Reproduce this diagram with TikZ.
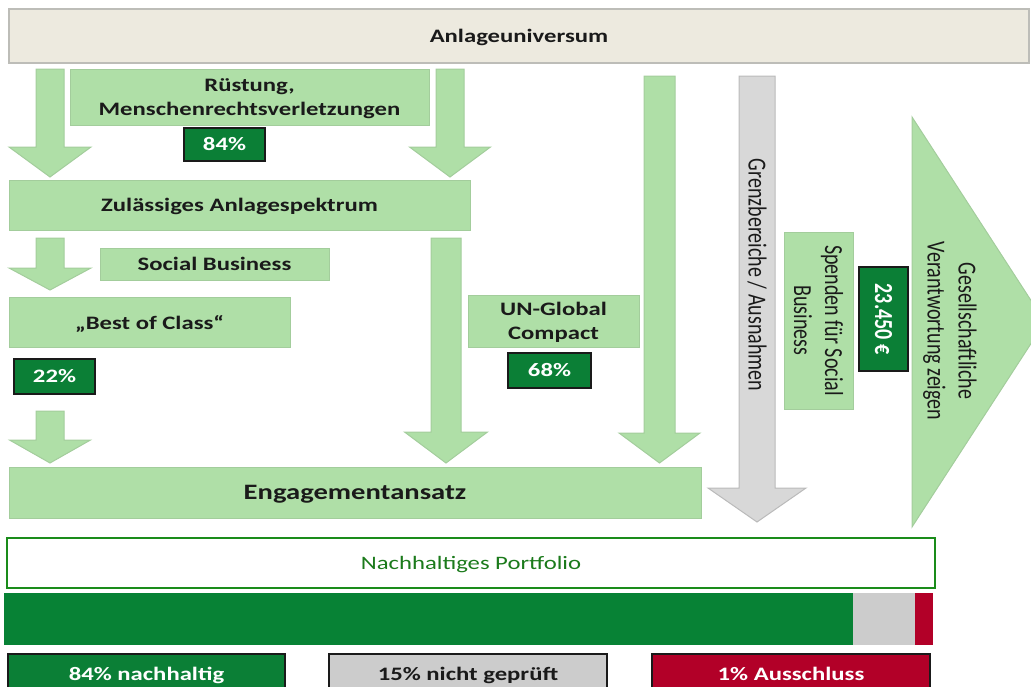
\documentclass[tikz,border=0pt]{standalone}
\usepackage{fontspec}
\setmainfont{Carlito}[FakeStretch=1.3]
\newfontfamily\rotfont{Carlito}[FakeStretch=0.77]
\definecolor{lgreen}{HTML}{AFDFA7}
\definecolor{lgreenline}{HTML}{A3CD9C}
\definecolor{beige}{HTML}{EDEADF}
\definecolor{beigeline}{HTML}{BDBDB8}
\definecolor{lgray}{HTML}{D8D8D8}
\definecolor{lgrayline}{HTML}{BABABA}
\definecolor{dgreen}{HTML}{0B7F36}
\definecolor{bargreen}{HTML}{078235}
\definecolor{bargray}{HTML}{CCCCCC}
\definecolor{barred}{HTML}{B20028}
\definecolor{portline}{HTML}{1A8C1A}
\definecolor{porttext}{HTML}{1B7A1B}
\definecolor{textdark}{HTML}{1A1A1A}
\tikzset{greenbox/.style = {draw=lgreenline, fill=lgreen, line width=1pt, inner sep=0,
                            text=textdark, align=center, text depth=0pt,
                            font=\fontsize{19}{24}\selectfont\bfseries}}
\tikzset{badge/.style = {draw=textdark, fill=dgreen, line width=1.5pt, inner sep=0,
                         text=white, font=\fontsize{19}{23}\selectfont\bfseries}}
\tikzset{blockarrow/.style = {draw=lgreenline, fill=lgreen, line width=1pt}}
\tikzset{grayarrow/.style = {draw=lgrayline, fill=lgray, line width=1pt}}
\tikzset{vtext/.style = {rotate=-90, align=center, text=textdark,
                         font=\rotfont\fontsize{26}{31}\selectfont}}
\tikzset{legend/.style = {draw=textdark, line width=1.5pt, inner sep=0, text depth=0pt,
                          minimum width=277pt, minimum height=40pt,
                          font=\fontsize{19}{23}\selectfont\bfseries}}

\begin{document}
\begin{tikzpicture}[x=1pt, y=-1pt]
  \useasboundingbox (0,0) rectangle (1031,686);
  \node [draw=beigeline, fill=beige, line width=1.5pt, minimum width=1020pt, minimum height=54pt,
         text depth=0pt, text=textdark, font=\fontsize{19}{23}\selectfont\bfseries] (univ) at (519,36)
        {Anlageuniversum};
  \foreach \cx/\sw/\ya/\yb/\hw/\yc in {50/14/69/147/41/177, 450/14/69/147/40.5/177,
                                       50/14/238/268/41/290, 50/14/411/440/40.5/463,
                                       446/15/238/432/41.5/463, 659.5/15.5/76/433/40.5/463}
    \draw [blockarrow] (\cx-\sw,\ya) -- (\cx+\sw,\ya) -- (\cx+\sw,\yb) -- (\cx+\hw,\yb)
                       -- (\cx,\yc) -- (\cx-\hw,\yb) -- (\cx-\sw,\yb) -- cycle;
  \draw [grayarrow] (739,76) -- (775,76) -- (775,488) -- (806,488) -- (757,522)
                    -- (708,488) -- (739,488) -- cycle;
  \draw [blockarrow] (912,117) -- (1045,322) -- (912,527) -- cycle;

  \node [greenbox, minimum width=359pt, minimum height=56pt] (ruest) at (249.5,97)
        {R\"ustung,\\Menschenrechtsverletzungen};
  \node [badge, minimum width=81pt, minimum height=33pt] (pruest) at (224.5,144.5) {84\%};
  \node [greenbox, minimum width=461pt, minimum height=50pt] (zul) at (239.5,205)
        {Zul\"assiges Anlagespektrum};
  \node [greenbox, minimum width=229pt, minimum height=32pt] (social) at (214.5,264) {Social Business};
  \node [greenbox, minimum width=281pt, minimum height=50pt] (best) at (149.5,322)
        {\char"201E Best of Class\char"201C};
  \node [badge, minimum width=81pt, minimum height=35pt] (pbest) at (54.5,376.5) {22\%};
  \node [greenbox, minimum width=171pt, minimum height=52pt] (ungc) at (553.5,321)
        {UN-Global\\Compact};
  \node [badge, minimum width=83pt, minimum height=35pt] (pungc) at (549.5,370.5) {68\%};
  \node [greenbox, minimum width=692pt, minimum height=51pt,
         font=\fontsize{22}{26}\selectfont\bfseries] (engage) at (355,492.5) {Engagementansatz};

  \node [vtext] (grenz) at (757,275) {Grenzbereiche / Ausnahmen};
  \node [greenbox, vtext, text depth=, minimum width=177pt, minimum height=69pt] (spenden) at (818.5,320.5)
        {Spenden f\"ur Social\\Business};
  \node [badge, rotate=-90, minimum width=104pt, minimum height=49pt,
         font=\rotfont\fontsize{26}{31}\selectfont\bfseries] (betrag) at (883.5,319) {23.450\,\char"20AC};
  \node [vtext] (gesell) at (950,331) {Gesellschaftliche\\Verantwortung zeigen};

  \node [draw=portline, fill=white, line width=2pt, minimum width=928pt, minimum height=50pt,
         text depth=0pt, text=porttext, font=\fontsize{19}{23}\selectfont] (portf) at (471,563)
        {Nachhaltiges Portfolio};
  \fill [bargreen] (4,593) rectangle (853,645);
  \fill [bargray] (853,593) rectangle (915,645);
  \fill [barred] (915,593) rectangle (933,645);

  \node [legend, fill=dgreen, text=white] (lok) at (146.5,674) {84\% nachhaltig};
  \node [legend, fill=bargray, text=textdark, minimum width=278pt] (lnp) at (468,674) {15\% nicht gepr\"uft};
  \node [legend, fill=barred, text=white, minimum width=278pt] (lex) at (791,674) {1\% Ausschluss};
\end{tikzpicture}
\end{document}
